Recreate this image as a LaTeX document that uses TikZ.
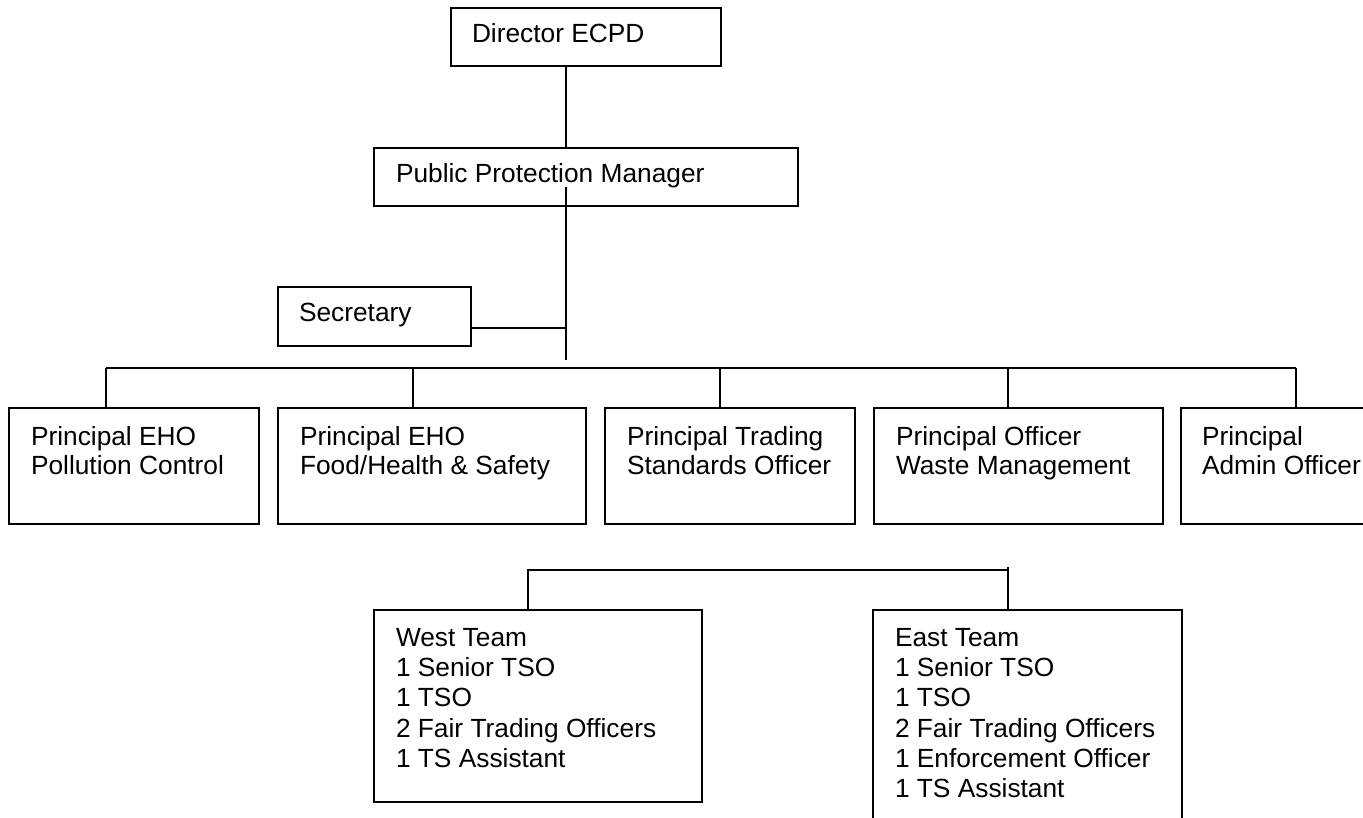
\documentclass[tikz,border=0pt]{standalone}
\usepackage{fontspec}
\setmainfont{Liberation Sans}
\begin{document}
\begin{tikzpicture}[x=1pt,y=-1pt,
  box/.style={draw, rectangle, line width=1.8pt, inner sep=0pt, outer sep=0pt},
  lbl/.style={anchor=base west, inner sep=0pt, outer sep=0pt, font=\fontsize{26.3}{30}\selectfont},
  conn/.style={line width=1.6pt}]
\useasboundingbox (0,0) rectangle (1363,818);
\clip (0,0) rectangle (1363,818);
\fill[white] (0,0) rectangle (1363,818);

% top boxes
\node[box, minimum width=270pt, minimum height=58pt] (dir) at (586,37) {};
\node[lbl] (dirT) at (472,43) {Director ECPD};
\node[box, minimum width=424pt, minimum height=58pt] (ppm) at (586,177) {};
\node[lbl] (ppmT) at (396,183) {Public Protection Manager};
\node[box, minimum width=193pt, minimum height=59pt] (sec) at (374.5,316.5) {};
\node[lbl] (secT) at (299,322) {Secretary};

% principal boxes
\node[box, minimum width=250pt, minimum height=116pt] (b1) at (134,466) {};
\node[lbl] (b1a) at (31,445) {Principal EHO};
\node[lbl] (b1b) at (31,474) {Pollution Control};
\node[box, minimum width=308pt, minimum height=116pt] (b2) at (432,466) {};
\node[lbl] (b2a) at (300,445) {Principal EHO};
\node[lbl] (b2b) at (300,474) {Food/Health \& Safety};
\node[box, minimum width=250pt, minimum height=116pt] (b3) at (730,466) {};
\node[lbl] (b3a) at (627,445) {Principal Trading};
\node[lbl] (b3b) at (627,474) {Standards Officer};
\node[box, minimum width=289pt, minimum height=116pt] (b4) at (1018.5,466) {};
\node[lbl] (b4a) at (896,445) {Principal Officer};
\node[lbl] (b4b) at (896,474) {Waste Management};
\node[box, minimum width=270pt, minimum height=116pt] (b5) at (1316,466) {};
\node[lbl] (b5a) at (1202,445) {Principal};
\node[lbl] (b5b) at (1202,474) {Admin Officer};

% team boxes
\node[box, minimum width=328pt, minimum height=192pt] (west) at (538,706) {};
\node[lbl] (w1) at (396,646) {West Team};
\node[lbl] (w2) at (396,676) {1 Senior TSO};
\node[lbl] (w3) at (396,706) {1 TSO};
\node[lbl] (w4) at (396,737) {2 Fair Trading Officers};
\node[lbl] (w5) at (396,767) {1 TS Assistant};
\node[box, minimum width=309pt, minimum height=240pt] (east) at (1027.5,730) {};
\node[lbl] (e1) at (895,646) {East Team};
\node[lbl] (e2) at (895,676) {1 Senior TSO};
\node[lbl] (e3) at (895,706) {1 TSO};
\node[lbl] (e4) at (895,737) {2 Fair Trading Officers};
\node[lbl] (e5) at (895,767) {1 Enforcement Officer};
\node[lbl] (e6) at (895,797) {1 TS Assistant};

% connector coordinates
\coordinate (tx) at (566,0);
\coordinate (t2top) at (566,187);
\coordinate (t2bot) at (566,360);
\coordinate (sj) at (566,328);
\coordinate (busL) at (106,368);
\coordinate (busR) at (1296,368);
\coordinate (lbusL) at (528,570);
\coordinate (lbusR) at (1008,570);

% connectors
\draw[conn] (dir.south -| tx) -- (ppm.north -| tx);
\draw[conn] (t2top) -- (t2bot);
\draw[conn] (sec.east |- sj) -- (sj);
\draw[conn] (busL) -- (busR);
\draw[conn] (busL) -- (busL |- b1.north);
\draw[conn] (busL -| 413,0) -- (413,0 |- b2.north);
\draw[conn] (busL -| 720,0) -- (720,0 |- b3.north);
\draw[conn] (busL -| 1008,0) -- (1008,0 |- b4.north);
\draw[conn] (busR) -- (busR |- b5.north);
\draw[conn] (lbusL) -- (lbusR);
\draw[conn] ([yshift=0.8pt]lbusL) -- (lbusL |- west.north);
\draw[conn] ([yshift=3pt]lbusR) -- (lbusR |- east.north);
\end{tikzpicture}
\end{document}
